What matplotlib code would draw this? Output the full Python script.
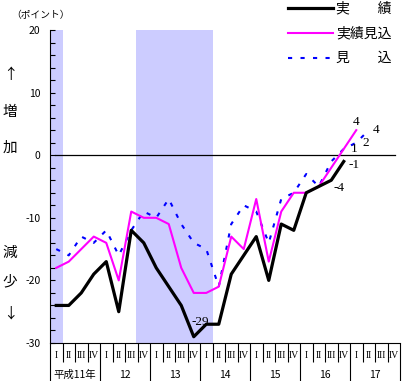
import matplotlib
matplotlib.use('Agg')
import matplotlib.pyplot as plt
from matplotlib.lines import Line2D
from matplotlib.ticker import MultipleLocator

plt.rcParams['font.family'] = ['Noto Sans CJK JP', 'DejaVu Sans']
plt.rcParams['axes.unicode_minus'] = False

# 四半期の区分 (平成11年Ⅰ期 ～ 平成17年Ⅳ期)
years = ['平成11年', '12', '13', '14', '15', '16', '17']
quarters = ['I', 'II', 'III', 'IV']

# 実績 (11年Ⅰ ～ 16年Ⅳ)
jisseki = [-24, -24, -22, -19, -17, -25, -12, -14, -18, -21, -24, -29,
           -27, -27, -19, -16, -13, -20, -11, -12, -6, -5, -4, -1]
# 実績見込 (11年Ⅰ ～ 17年Ⅰ)
jisseki_mikomi = [-18, -17, -15, -13, -14, -20, -9, -10, -10, -11, -18, -22,
                  -22, -21, -13, -15, -7, -17, -9, -6, -6, -5, -2, 1, 4]
# 見込 (11年Ⅰ ～ 17年Ⅱ)
mikomi = [-15, -16, -13, -14, -12, -16, -12, -9, -10, -7, -11, -14,
          -15, -21, -11, -8, -9, -14, -7, -6, -3, -5, -1, 1, 2, 4]

# 景気後退期 (四半期の番号)
shade_periods = [(0, 1), (6.9, 13)]

W, H = 403, 381
fig = plt.figure(figsize=(W / 100, H / 100), dpi=100)

# グラフ本体
ax = fig.add_axes([50 / W, 38 / H, 350 / W, 313 / H])
n_q = len(years) * len(quarters)
ax.set_xlim(0, n_q)
ax.set_ylim(-30, 20)

for a, b in shade_periods:
    ax.axvspan(a, b, color='#ccccff', lw=0, zorder=0)

ax.axhline(0, xmin=0.014, xmax=0.986, color='black', lw=0.9, zorder=1)

x1 = [i + 0.5 for i in range(len(jisseki))]
x2 = [i + 0.5 for i in range(len(jisseki_mikomi))]
x3 = [i + 0.5 for i in range(len(mikomi))]
ax.plot(x3, mikomi, color='#0000ff', lw=1.5, dashes=(2, 4), zorder=2)
ax.plot(x2, jisseki_mikomi, color='#ff00ff', lw=1.5, zorder=3)
ax.plot(x1, jisseki, color='black', lw=2.3, zorder=4)

# 数値ラベル
lab = dict(textcoords='offset pixels', va='center', fontsize=9.5,
           family='Liberation Serif', zorder=5)
ax.annotate(str(jisseki[11]), (x1[11], jisseki[11]), xytext=(7, 15), ha='center', **lab)
ax.annotate(str(jisseki[22]), (x1[22], jisseki[22]), xytext=(2, -8), ha='left', **lab)
ax.annotate(str(jisseki[23]), (x1[23], jisseki[23]), xytext=(5, -4), ha='left', **lab)
ax.annotate(str(jisseki_mikomi[23]), (x2[23], jisseki_mikomi[23]), xytext=(7, 0), ha='left', **lab)
ax.annotate(str(jisseki_mikomi[24]), (x2[24], jisseki_mikomi[24]), xytext=(0, 8), ha='center', **lab)
ax.annotate(str(mikomi[24]), (x3[24], mikomi[24]), xytext=(6, 0), ha='left', **lab)
ax.annotate(str(mikomi[25]), (x3[25], mikomi[25]), xytext=(4, 0), ha='left', **lab)

ax.yaxis.set_major_locator(MultipleLocator(10))
ax.yaxis.set_minor_locator(MultipleLocator(2))
ax.tick_params(axis='y', which='both', direction='in', length=3.5, width=0.8,
               pad=7, labelsize=7.5)
ax.set_xticks([])
for s in ['top', 'right']:
    ax.spines[s].set_visible(False)
ax.spines['left'].set_linewidth(0.8)
ax.spines['bottom'].set_linewidth(0.8)

# 横軸の表 (期・年)
tb = fig.add_axes([50 / W, 0, 350 / W, 38 / H])
tb.set_xlim(0, n_q)
tb.set_ylim(0, 38)
tb.axis('off')
for k in range(n_q + 1):
    if k % 4 == 0:
        tb.vlines(k, 0, 38, color='black', lw=0.8, clip_on=False)
    else:
        tb.vlines(k, 19, 38, color='black', lw=0.8, clip_on=False)
for k in range(n_q):
    tb.text(k + 0.5, 26, quarters[k % 4], ha='center', va='center',
            fontsize=7, family='Liberation Serif')
for j, y in enumerate(years):
    tb.text(j * 4 + 2, 6.5, y, ha='center', va='center', fontsize=7.5)


def px(x, y):
    return x / W, 1 - y / H


# 凡例
legend_items = [('実　　績', 'black', 2.3, None, 8),
                ('実績見込', '#ff00ff', 1.5, None, 33),
                ('見　　込', '#0000ff', 1.5, (2, 4), 58)]
for name, c, lw, ds, yy in legend_items:
    (xa, ya), (xb, yb) = px(288, yy), px(333, yy)
    ln = Line2D([xa, xb], [ya, yb], color=c, lw=lw, transform=fig.transFigure)
    if ds:
        ln.set_dashes(ds)
    fig.add_artist(ln)
    fig.text(*px(336, yy), name, ha='left', va='center', fontsize=10)

# 縦軸の説明
fig.text(*px(40, 15), '（ポイント）', ha='center', va='center', fontsize=7)
for ch, yy in [('↑', 75), ('増', 112), ('加', 148), ('減', 253), ('少', 281), ('↓', 314)]:
    fig.text(*px(10, yy), ch, ha='center', va='center', fontsize=10.5)

fig.savefig('out.png', dpi=100)
